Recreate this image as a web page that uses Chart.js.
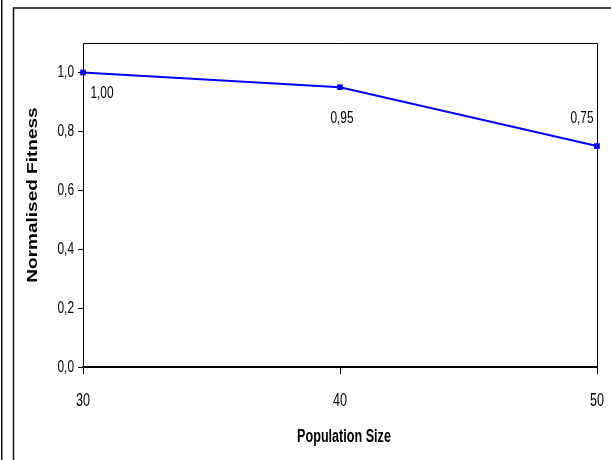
<!DOCTYPE html>
<html>
<head>
<meta charset="utf-8">
<script src="https://cdn.jsdelivr.net/npm/chart.js@4.4.1/dist/chart.umd.min.js"></script>
<style>
  html, body { margin: 0; padding: 0; background: #fff; }
  #wrap { width: 611px; height: 460px; }
</style>
</head>
<body>
<div id="wrap"><canvas id="c" width="611" height="460"></canvas></div>
<script>
// ---- data ----
const populationSizes = [30, 40, 50];
const normalisedFitness = [1.00, 0.95, 0.75];
const yTickValues = [0.0, 0.2, 0.4, 0.6, 0.8, 1.0];
const xTitle = 'Population Size';
const yTitle = 'Normalised Fitness';

const SANS = '"Liberation Sans", Arial, sans-serif';

const fmt = (v, d) => v.toFixed(d).replace('.', ',');

// draw all text condensed (tall, narrow glyphs like the reference)
const squeezePlugin = {
  id: 'squeeze',
  beforeInit(chart) {
    const ctx = chart.ctx;
    const orig = ctx.fillText.bind(ctx);
    ctx.fillText = function (text, x, y) {
      const m = ctx.getTransform();
      ctx.save();
      ctx.translate(x, y);
      if (Math.abs(m.b) > 0.5) ctx.scale(1, 0.75); else ctx.scale(0.7, 1);
      orig(text, 0, 0);
      ctx.restore();
    };
  }
};

const framePlugin = {
  id: 'frame',
  beforeDraw(chart) {
    const ctx = chart.ctx;
    ctx.save();
    ctx.fillStyle = '#fff';
    ctx.fillRect(0, 0, chart.width, chart.height);
    ctx.strokeStyle = '#111';
    ctx.lineWidth = 1.5;
    ctx.beginPath();
    ctx.moveTo(1.75, 0); ctx.lineTo(1.75, chart.height);
    ctx.moveTo(13.5, chart.height + 5); ctx.lineTo(13.5, 8); ctx.lineTo(chart.width + 5, 8);
    ctx.stroke();
    ctx.restore();
  },
  beforeDatasetsDraw(chart) {
    const {ctx, chartArea: a} = chart;
    ctx.save();
    ctx.strokeStyle = '#000';
    ctx.lineWidth = 1;
    ctx.beginPath();
    ctx.moveTo(a.left, a.top + 0.5); ctx.lineTo(a.right + 0.5, a.top + 0.5);
    ctx.lineTo(a.right + 0.5, a.bottom);
    ctx.stroke();
    ctx.restore();
  },
  afterDraw(chart, args, opts) {
    const {ctx, chartArea: a} = chart;
    ctx.save();
    ctx.fillStyle = '#000';
    ctx.textAlign = 'center';
    ctx.textBaseline = 'middle';
    ctx.font = 'bold 18px ' + SANS;
    ctx.fillText(xTitle, (a.left + a.right) / 2 + opts.xTitleDx, opts.xTitleY);
    ctx.translate(opts.yTitleX, (a.top + a.bottom) / 2 + opts.yTitleDy);
    ctx.rotate(-Math.PI / 2);
    ctx.font = 'bold 19px ' + SANS;
    ctx.fillText(yTitle, 0, 0);
    ctx.restore();
  }
};

const labelPlugin = {
  id: 'pointLabels',
  afterDatasetsDraw(chart, args, opts) {
    const ctx = chart.ctx;
    const meta = chart.getDatasetMeta(0);
    ctx.save();
    ctx.font = opts.font;
    ctx.fillStyle = '#000';
    ctx.textAlign = 'center';
    ctx.textBaseline = 'middle';
    meta.data.forEach((pt, i) => {
      const off = opts.offsets[i];
      ctx.fillText(fmt(normalisedFitness[i], 2), pt.x + off[0], pt.y + off[1]);
    });
    ctx.restore();
  }
};

new Chart(document.getElementById('c'), {
  type: 'line',
  data: {
    datasets: [{
      data: populationSizes.map((x, i) => ({x: x, y: normalisedFitness[i]})),
      borderColor: '#0000FF',
      borderWidth: 2,
      backgroundColor: '#0000FF',
      pointStyle: 'rect',
      pointRadius: 4,
      pointBorderWidth: 0,
      pointBackgroundColor: '#0000FF',
      tension: 0,
      clip: false
    }]
  },
  options: {
    responsive: false,
    animation: false,
    devicePixelRatio: 1,
    layout: { padding: { left: 0, top: 43, right: 14, bottom: 0 } },
    plugins: {
      legend: { display: false },
      tooltip: { enabled: false },
      pointLabels: {
        font: '17px ' + SANS,
        offsets: [[19, 21], [2, 31], [-15, -28]]
      },
      frame: { xTitleDx: 4, xTitleY: 437, yTitleX: 33, yTitleDy: -10 }
    },
    scales: {
      x: {
        type: 'linear',
        min: populationSizes[0],
        max: populationSizes[populationSizes.length - 1],
        afterBuildTicks: (s) => { s.ticks = populationSizes.map(v => ({value: v})); },
        afterFit: (s) => { s.height = 93; s.paddingRight = 0; s.paddingLeft = 0; },
        ticks: {
          color: '#000',
          font: { family: SANS, size: 18 },
          padding: 16,
          maxRotation: 0,
          callback: (v) => String(v)
        },
        grid: { drawOnChartArea: false, tickLength: 7, color: '#000', tickWidth: 1 },
        border: { color: '#000', width: 2 }
      },
      y: {
        type: 'linear',
        min: 0,
        max: 1.1,
        afterBuildTicks: (s) => { s.ticks = yTickValues.map(v => ({value: v})); },
        afterFit: (s) => { s.width = 83; s.paddingTop = 0; s.paddingBottom = 0; },
        ticks: {
          color: '#000',
          font: { family: SANS, size: 17 },
          padding: 4,
          callback: (v) => fmt(v, 1)
        },
        grid: { drawOnChartArea: false, tickLength: 5, color: '#000', tickWidth: 1 },
        border: { color: '#000', width: 1 }
      }
    }
  },
  plugins: [squeezePlugin, framePlugin, labelPlugin]
});
</script>
</body>
</html>
